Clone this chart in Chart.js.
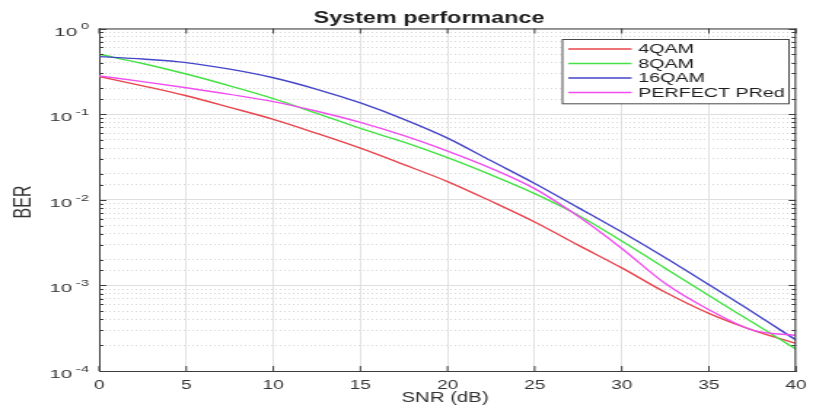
<!DOCTYPE html>
<html>
<head>
<meta charset="utf-8">
<script src="https://cdn.jsdelivr.net/npm/chart.js@4.4.1/dist/chart.umd.min.js"></script>
<style>
html,body{margin:0;padding:0;background:#fff;overflow:hidden;width:816px;height:414px;}
#wrap{position:absolute;left:0;top:0;width:560px;height:414px;transform:scaleX(1.457142857);transform-origin:0 0;}
</style>
</head>
<body>
<div id="wrap"><canvas id="c"></canvas></div>
<script>
// ---- data ----
const snr        = [0, 2.5, 5, 7.5, 10, 12.5, 15, 17.5, 20, 22.5, 25, 27.5, 30, 32.5, 35, 37.5, 40];
const ber4QAM    = [0.275, 0.214, 0.164, 0.120, 0.087, 0.0596, 0.040, 0.0257, 0.0163, 0.0096, 0.0055, 0.00295, 0.0016, 0.00083, 0.00047, 0.00030, 0.00021];
const ber8QAM    = [0.50, 0.39, 0.294, 0.214, 0.152, 0.102, 0.068, 0.047, 0.031, 0.0195, 0.0118, 0.0066, 0.0033, 0.00158, 0.00076, 0.00037, 0.00018];
const ber16QAM   = [0.47, 0.44, 0.40, 0.335, 0.266, 0.195, 0.135, 0.087, 0.0525, 0.0285, 0.0155, 0.0081, 0.0042, 0.0021, 0.00102, 0.00049, 0.00023];
const berPerfect = [0.28, 0.24, 0.203, 0.17, 0.14, 0.108, 0.080, 0.056, 0.037, 0.0233, 0.0135, 0.0064, 0.0027, 0.00105, 0.00052, 0.00030, 0.00026];
const seriesNames  = ['4QAM', '8QAM', '16QAM', 'PERFECT PRed'];
const seriesColors = ['#e8454d', '#44e244', '#4545c8', '#f04ef0'];
const xTickValues  = [0, 5, 10, 15, 20, 25, 30, 35, 40];
const yDecadeExps  = [-4, -3, -2, -1, 0];
const titleText = 'System performance';
const xLabel = 'SNR (dB)';
const yLabel = 'BER';

const SX = 816 / 560;
const FONT = "'Liberation Sans', Arial, Helvetica, sans-serif";
function isDecade(v){ const l = Math.log10(v); return Math.abs(l - Math.round(l)) < 1e-9; }

const allSeries = [ber4QAM, ber8QAM, ber16QAM, berPerfect];
const drawOrder = [3, 2, 1, 0];
const datasets = allSeries.map((arr, i) => ({
  label: seriesNames[i],
  data: snr.map((s, k) => ({x: s, y: arr[k]})),
  borderColor: seriesColors[i],
  backgroundColor: seriesColors[i],
  borderWidth: 1.4,
  pointRadius: 0,
  cubicInterpolationMode: 'monotone',
  fill: false,
  order: drawOrder[i]
}));

const deco = {
  id: 'deco',
  afterDraw(chart){
    const {ctx, chartArea: a, scales: {x, y}} = chart;
    ctx.save();
    // box top/right
    ctx.strokeStyle = '#3c3c3c';
    ctx.lineWidth = 1;
    ctx.beginPath();
    ctx.moveTo(a.left, a.top + 0.5); ctx.lineTo(a.right, a.top + 0.5);
    ctx.moveTo(a.right - 0.5, a.top); ctx.lineTo(a.right - 0.5, a.bottom);
    ctx.stroke();
    // inward ticks
    ctx.beginPath();
    x.ticks.forEach(t => {
      const px = x.getPixelForValue(t.value);
      ctx.moveTo(px, a.bottom); ctx.lineTo(px, a.bottom - 5);
      ctx.moveTo(px, a.top); ctx.lineTo(px, a.top + 5);
    });
    y.ticks.forEach(t => {
      const py = Math.round(y.getPixelForValue(t.value)) + 0.5;
      const len = isDecade(t.value) ? 5 : 3;
      ctx.moveTo(a.left, py); ctx.lineTo(a.left + len, py);
      ctx.moveTo(a.right, py); ctx.lineTo(a.right - len, py);
    });
    ctx.stroke();

    // y tick labels (10 with superscript exponent) at the scale's decade positions
    ctx.fillStyle = '#333';
    ctx.textAlign = 'right';
    ctx.textBaseline = 'alphabetic';
    yDecadeExps.forEach(e => {
      const py = y.getPixelForValue(Math.pow(10, e));
      const expStr = String(e);
      const right = 61;
      ctx.font = '10px ' + FONT;
      const ew = ctx.measureText(expStr).width;
      ctx.save();
      ctx.translate(right, py + 0.8);
      ctx.scale(1, 0.82);
      ctx.fillText(expStr, 0, 0);
      ctx.restore();
      ctx.font = '14px ' + FONT;
      ctx.save();
      ctx.translate(right - ew - 2.5, py + 7);
      ctx.scale(1, 0.82);
      ctx.fillText('10', 0, 0);
      ctx.restore();
    });

    // title
    ctx.fillStyle = '#1e1e1e';
    ctx.font = 'bold 16px ' + FONT;
    ctx.textAlign = 'center';
    ctx.textBaseline = 'alphabetic';
    ctx.fillText(titleText, 429 / SX, 22.5);

    // x label
    ctx.fillStyle = '#333';
    ctx.font = '14px ' + FONT;
    ctx.fillText(xLabel, 445 / SX, 402);

    // y label
    ctx.save();
    ctx.translate(16.5, 202);
    ctx.rotate(-Math.PI / 2);
    ctx.font = '16px ' + FONT;
    ctx.textBaseline = 'middle';
    ctx.fillText(yLabel, 0, 0);
    ctx.restore();

    // legend
    const bx = 385.5, by = 39, bw = 155.5, bh = 64.3;
    ctx.fillStyle = '#fff';
    ctx.fillRect(bx, by, bw, bh);
    ctx.strokeStyle = '#4a4a4a';
    ctx.lineWidth = 1;
    ctx.strokeRect(bx + 0.5, by + 0.5, bw, bh);
    ctx.font = '13.5px ' + FONT;
    ctx.textAlign = 'left';
    ctx.textBaseline = 'middle';
    seriesNames.forEach((name, i) => {
      const ry = 49 + i * 14.5;
      ctx.strokeStyle = seriesColors[i];
      ctx.lineWidth = 1.5;
      ctx.beginPath(); ctx.moveTo(390, ry); ctx.lineTo(433.5, ry); ctx.stroke();
      ctx.fillStyle = '#1e1e1e';
      ctx.fillText(name, 438, ry + 0.5);
    });
    ctx.restore();
  }
};

Chart.defaults.font.family = FONT;
new Chart(document.getElementById('c'), {
  type: 'line',
  data: { datasets },
  options: {
    responsive: true,
    maintainAspectRatio: false,
    animation: false,
    devicePixelRatio: 1,
    layout: { padding: { top: 28.5, right: 7.5, left: 0, bottom: 0 } },
    plugins: { legend: { display: false }, title: { display: false }, tooltip: { enabled: false } },
    scales: {
      x: {
        type: 'linear', min: 0, max: 40,
        afterBuildTicks: s => { s.ticks = xTickValues.map(v => ({value: v})); },
        afterFit: s => { s.height = 43; },
        ticks: { color: '#333', font: { size: 13 }, padding: 6.5, maxRotation: 0, autoSkip: false },
        grid: { color: '#e2e2e2', lineWidth: 1, drawTicks: false },
        border: { display: true, color: '#3c3c3c', width: 1 }
      },
      y: {
        type: 'logarithmic', min: 1e-4, max: 1,
        afterFit: s => { s.width = 68; },
        ticks: { autoSkip: false, callback: () => '' },
        grid: {
          drawTicks: false, lineWidth: 1,
          color: c => (c.tick && isDecade(c.tick.value)) ? '#dedede' : '#d6d6d6'
        },
        border: {
          display: true, color: '#3c3c3c', width: 1,
          dash: c => (c.tick && !isDecade(c.tick.value)) ? [1, 2] : []
        }
      }
    }
  },
  plugins: [deco]
});
</script>
</body>
</html>
